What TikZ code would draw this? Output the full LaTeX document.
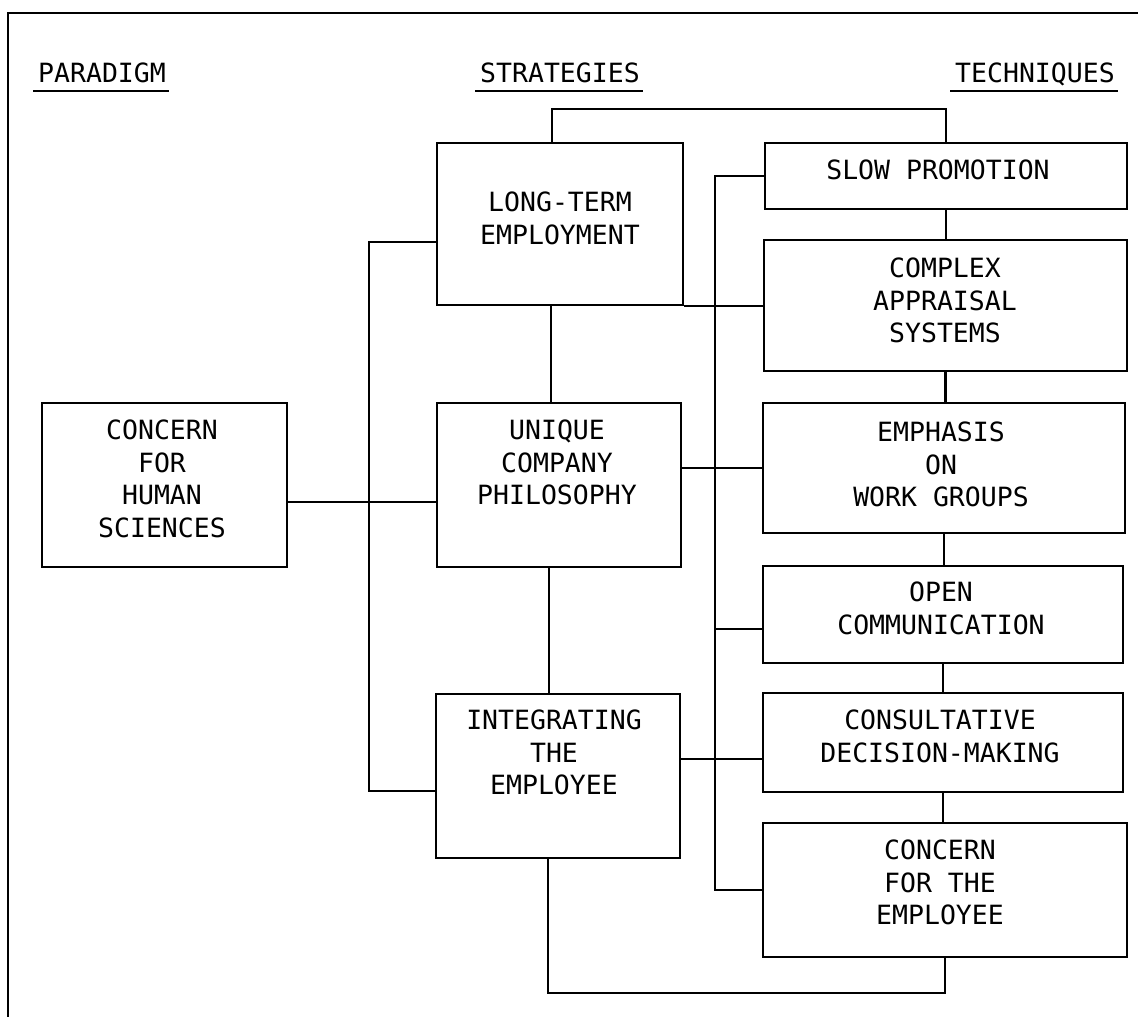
\documentclass[tikz,border=0pt]{standalone}
\usepackage{fontspec}
\setmonofont{DejaVu Sans Mono}
\usetikzlibrary{fit,calc}
\begin{document}
\begin{tikzpicture}[x=1pt,y=-1pt,
  bx/.style={draw,line width=2.6pt,inner sep=0pt},
  txt/.style={font=\ttfamily\fontsize{26.5}{32.5}\selectfont,align=center,anchor=north,inner sep=0pt},
  hdr/.style={font=\ttfamily\fontsize{26.5}{32.5}\selectfont,anchor=north west,inner sep=0pt},
  cn/.style={line width=2.2pt},
  ul/.style={line width=2.6pt},
  frameline/.style={line width=2.4pt}]
\useasboundingbox[fill=white] (0,0) rectangle (1138,1017);

% frame
\coordinate (fTL) at (8,13);
\coordinate (fTR) at (1138,13);
\coordinate (fBL) at (8,1017);
\draw[frameline] (fTR) -- (fTL) -- (fBL);

% headers
\node[hdr] (hP) at (38,63) {PARADIGM};
\node[hdr] (hS) at (480,63) {STRATEGIES};
\node[hdr] (hT) at (955,63) {TECHNIQUES};
\foreach \h in {hP,hS,hT}
  \draw[ul] ([shift={(-5pt,-8pt)}]\h.base west) -- ([shift={(3pt,-8pt)}]\h.base east);

% boxes
\node[bx,fit={(42,403) (287,567)}] (ch) {};
\node[bx,fit={(437,143) (683,305)}] (lt) {};
\node[bx,fit={(437,403) (681,567)}] (uc) {};
\node[bx,fit={(436,694) (680,858)}] (ie) {};
\node[bx,fit={(765,143) (1127,209)}] (sp) {};
\node[bx,fit={(764,240) (1127,371)}] (cas) {};
\node[bx,fit={(763,403) (1125,533)}] (ew) {};
\node[bx,fit={(763,566) (1123,663)}] (oc) {};
\node[bx,fit={(763,693) (1123,792)}] (cd) {};
\node[bx,fit={(763,823) (1127,957)}] (ce) {};

% texts
\node[txt] (tch) at (162,420) {CONCERN\\FOR\\HUMAN\\SCIENCES};
\node[txt] (tlt) at (560,192) {LONG-TERM\\EMPLOYMENT};
\node[txt] (tuc) at (557,420) {UNIQUE\\COMPANY\\PHILOSOPHY};
\node[txt] (tie) at (554,710) {INTEGRATING\\THE\\EMPLOYEE};
\node[txt] (tsp) at (938,160) {SLOW PROMOTION};
\node[txt] (tcas) at (945,258) {COMPLEX\\APPRAISAL\\SYSTEMS};
\node[txt] (tew) at (941,422) {EMPHASIS\\ON\\WORK GROUPS};
\node[txt] (toc) at (941,582) {OPEN\\COMMUNICATION};
\node[txt] (tcd) at (940,710) {CONSULTATIVE\\DECISION-MAKING};
\node[txt] (tce) at (940,840) {CONCERN\\FOR THE\\EMPLOYEE};

% bus coordinates
\coordinate (busL) at (369,0);
\coordinate (busR) at (715,0);

% left bus: paradigm to strategies
\coordinate (lA) at ([yshift=-18pt]lt.west);
\coordinate (lU) at ([yshift=-17pt]uc.west);
\coordinate (lI) at ([yshift=-15pt]ie.west);
\draw[cn] (lA) -- (lA -| busL) -- (lI -| busL) -- (lI);
\draw[cn] (lU -| ch.east) -- (lU);

% strategies chain
\coordinate (sA) at ([xshift=-9pt]lt.south);
\coordinate (sB) at ([xshift=-10pt]uc.south);
\draw[cn] (sA) -- (sA |- uc.north);
\draw[cn] (sB) -- (sB |- ie.north);

% top and bottom loops
\coordinate (tA) at ([xshift=-8pt]lt.north);
\draw[cn] (tA) -- ++(0,-33) -| (sp.north);
\coordinate (bA) at ([xshift=-10pt]ie.south);
\draw[cn] (bA) -- ++(0,134) -| (ce.south);

% strategies to techniques
\draw[cn] (lt.south east) -- (lt.south east -| cas.west);
\draw[cn] (ew.west -| uc.east) -- (ew.west);
\coordinate (cI) at ([yshift=-16.5pt]cd.west);
\draw[cn] (cI -| ie.east) -- (cI);

% right bus
\coordinate (rO) at ([yshift=-14.5pt]oc.west);
\draw[cn] (sp.west) -- (sp.west -| busR) -- (ce.west -| busR) -- (ce.west);
\draw[cn] (rO -| busR) -- (rO);

% techniques chain
\draw[cn] (sp.south) -- (sp.south |- cas.north);
\draw[cn] (cas.south) -- (cas.south |- ew.north);
\draw[cn] (ew.south) -- (ew.south |- oc.north);
\draw[cn] (oc.south) -- (oc.south |- cd.north);
\draw[cn] (cd.south) -- (cd.south |- ce.north);
\end{tikzpicture}
\end{document}
